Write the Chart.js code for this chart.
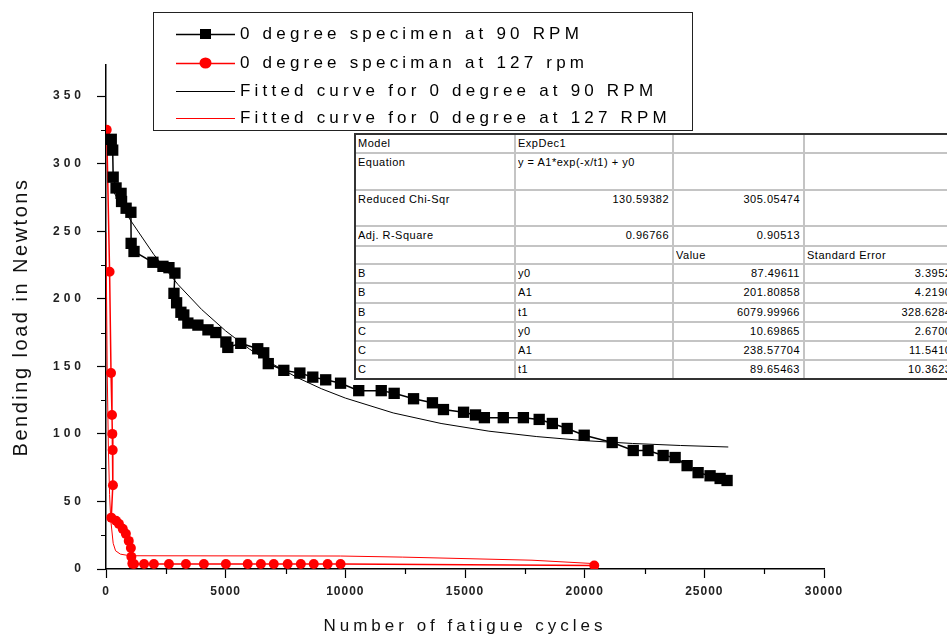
<!DOCTYPE html>
<html>
<head>
<meta charset="utf-8">
<title>Bending load vs number of fatigue cycles</title>
<script src="https://cdn.jsdelivr.net/npm/chart.js@4.4.1/dist/chart.umd.min.js"></script>
<style>
  html, body { margin:0; padding:0; background:#fff; }
  #wrap { position:relative; width:947px; height:639px; overflow:hidden; font-family:"Liberation Sans", Arial, sans-serif; }
  #chart { position:absolute; left:0; top:0; }
  #legend { position:absolute; left:153px; top:12px; width:540px; height:119px; box-sizing:border-box; border:1.5px solid #222; background:#fff; }
  .lg-row { position:absolute; left:0; height:24px; display:flex; align-items:center; }
  .lg-row svg { margin-left:22px; display:block; }
  .lg-row span { margin-left:5px; font-size:17px; letter-spacing:4.2px; color:#000; white-space:nowrap; }
  #fit-table { position:absolute; left:0; top:0; width:947px; height:639px; pointer-events:none; }
  .tl { position:absolute; background:#c4c4c4; }
  .tb { position:absolute; background:#333; }
  .tc { position:absolute; font-size:11px; letter-spacing:0.5px; color:#000; white-space:nowrap; line-height:13px; overflow:hidden; }
</style>
</head>
<body>
<div id="wrap">
  <canvas id="chart" width="947" height="639"></canvas>
  <div id="fit-table"></div>
  <div id="legend"></div>
</div>
<script>
// ---------------- data ----------------
const xTickValues = [0, 5000, 10000, 15000, 20000, 25000, 30000];
const yTickValues = [0, 50, 100, 150, 200, 250, 300, 350];
const xMinorTicks = [2500, 7500, 12500, 17500, 22500, 27500];
const yMinorTicks = [25, 75, 125, 175, 225, 275, 325];

const seriesNames = [
  "0 degree specimen at 90 RPM",
  "0 degree speciman at 127 rpm",
  "Fitted curve for 0 degree at 90 RPM",
  "Fitted curve for 0 degree at 127 RPM"
];

const black90Cycles = [220,280,300,420,630,650,840,1040,1050,1170,1960,2380,2630,2880,2840,2950,3130,3250,3420,3840,4260,4590,5010,5090,5630,6340,6590,6780,7430,8100,8640,9180,9800,10560,11500,12040,12850,13640,14100,14940,15440,15810,16600,17440,18100,18650,19270,19980,21150,22030,22650,23280,23780,24280,24740,25240,25660,25950];
const black90Load   = [318,310,290,282,278,272,267,264,241,235,227,224,223,219,204,197,190,188,182,180.5,177,175,168,164,167,163,160,152,147,145,142,140,137.5,132,132,130,126,123,118,116,114,112,112,112,110.7,107.7,104,99,93.6,87.7,87.7,84,82.5,76.5,71.3,69,67,65.5];

const red127Cycles = [30,150,210,250,265,280,290,220,420,540,700,830,950,1040,1060,1100,1170,1590,2000,2630,3340,4090,5010,5920,6470,7010,7590,8140,8680,9260,9800,20400];
const red127Load   = [325,220,145,114,100,88,62,38,35.7,33.4,29.7,26,20.8,15.6,9,4,3.7,3.7,3.7,3.7,3.7,3.7,3.7,3.7,3.7,3.7,3.7,3.7,3.7,3.7,3.7,2.5];

const fit90Cycles = [280,1000,2000,3000,4000,5000,6000,7000,8000,9000,10000,12000,14000,16000,18000,20000,22000,24000,26000];
const fit90Load   = [280.2,258.7,232.7,210.7,192.0,176.2,162.7,151.3,141.6,133.4,126.5,115.5,107.7,102.0,98.0,95.0,92.9,91.4,90.3];

const fit127Cycles = [0,50,100,150,200,300,400,600,1000,9800,12400,17800,20400];
const fit127Load   = [249,147,89,55,36,19,13.5,11,9.8,9.6,8.8,6.5,4];

// fit-parameter table (text shown in the picture)
const tableRows = [
  ["Model", "ExpDec1", "", ""],
  ["Equation", "y = A1*exp(-x/t1) + y0", "", ""],
  ["Reduced Chi-Sqr", "130.59382", "305.05474", ""],
  ["Adj. R-Square", "0.96766", "0.90513", ""],
  ["", "", "Value", "Standard Error"],
  ["B", "y0", "87.49611", "3.39524"],
  ["B", "A1", "201.80858", "4.21909"],
  ["B", "t1", "6079.99966", "328.62847"],
  ["C", "y0", "10.69865", "2.67004"],
  ["C", "A1", "238.57704", "11.54106"],
  ["C", "t1", "89.65463", "10.36233"]
];

// ---------------- helpers ----------------
const pts = (xs, ys) => xs.map((x, i) => ({ x: x, y: ys[i] }));
const FONT = '"Liberation Sans", Arial, sans-serif';

// letter spacing for axis texts (the reference renders spaced glyphs)
function wrapSpacing(scale, tickLs, titleLs) {
  if (!scale || scale.__spaced) return;
  scale.__spaced = true;
  const dl = scale.drawLabels, dt = scale.drawTitle;
  scale.drawLabels = function (a) { const c = this.ctx; c.save(); c.letterSpacing = tickLs + 'px'; dl.call(this, a); c.restore(); };
  scale.drawTitle = function (a) { const c = this.ctx; c.save(); c.letterSpacing = titleLs + 'px'; dt.call(this, a); c.restore(); };
}

const axisExtras = {
  id: 'axisExtras',
  afterUpdate(chart) {
    wrapSpacing(chart.scales.x, 1, 4);
    wrapSpacing(chart.scales.y, 4, 2.5);
  },
  afterDraw(chart) {
    const { ctx, scales: { x, y }, chartArea } = chart;
    ctx.save();
    ctx.strokeStyle = '#000';
    ctx.lineWidth = 1.2;
    ctx.beginPath();
    yMinorTicks.forEach(v => {
      const py = Math.round(y.getPixelForValue(v)) + 0.5;
      ctx.moveTo(chartArea.left - 5, py); ctx.lineTo(chartArea.left, py);
    });
    xMinorTicks.forEach(v => {
      const px = Math.round(x.getPixelForValue(v)) + 0.5;
      ctx.moveTo(px, chartArea.bottom); ctx.lineTo(px, chartArea.bottom + 5);
    });
    ctx.stroke();
    ctx.restore();
  }
};

// ---------------- chart ----------------
const chart = new Chart(document.getElementById('chart'), {
  type: 'scatter',
  data: {
    datasets: [
      { label: seriesNames[2], data: pts(fit90Cycles, fit90Load), showLine: true, borderColor: '#000', borderWidth: 1, pointRadius: 0, tension: 0, order: 3 },
      { label: seriesNames[3], data: pts(fit127Cycles, fit127Load), showLine: true, borderColor: '#ff0000', borderWidth: 1, pointRadius: 0, tension: 0, order: 4 },
      { label: seriesNames[0], data: pts(black90Cycles, black90Load), showLine: true, borderColor: '#000', borderWidth: 1.5,
        pointStyle: 'rect', pointRadius: 8, pointBackgroundColor: '#000', pointBorderColor: '#000', pointBorderWidth: 0, order: 1 },
      { label: seriesNames[1], data: pts(red127Cycles, red127Load), showLine: true, borderColor: '#ff0000', borderWidth: 1.5,
        pointStyle: 'circle', pointRadius: 5, pointBackgroundColor: '#ff0000', pointBorderColor: '#ff0000', pointBorderWidth: 0, order: 2 }
    ]
  },
  options: {
    responsive: false,
    animation: false,
    layout: { padding: { left: 0, right: 123, top: 65, bottom: 0 } },
    plugins: { legend: { display: false }, tooltip: { enabled: false } },
    scales: {
      x: {
        type: 'linear', min: 0, max: 30000,
        afterBuildTicks: s => { s.ticks = xTickValues.map(v => ({ value: v })); },
        afterFit: s => { s.height = 70; },
        grid: { display: true, drawOnChartArea: false, drawTicks: true, tickLength: 9, color: '#000', tickWidth: 1.2 },
        border: { display: true, color: '#000', width: 1.5 },
        ticks: { color: '#222', font: { family: FONT, size: 12, weight: 'bold' }, padding: 6, maxRotation: 0, autoSkip: false, callback: v => String(v) },
        title: { display: true, text: 'Number of fatigue cycles', color: '#111', font: { family: FONT, size: 17 }, padding: { top: 0, bottom: 2 } }
      },
      y: {
        type: 'linear', min: 0, max: 373,
        afterBuildTicks: s => { s.ticks = yTickValues.map(v => ({ value: v })); },
        afterFit: s => { s.width = 106; },
        grid: { display: true, drawOnChartArea: false, drawTicks: true, tickLength: 9, color: '#000', tickWidth: 1.2 },
        border: { display: true, color: '#000', width: 1.5 },
        ticks: { color: '#222', font: { family: FONT, size: 12, weight: 'bold' }, padding: 12, autoSkip: false, callback: v => String(v) },
        title: { display: true, text: 'Bending load in Newtons', color: '#111', font: { family: FONT, size: 20 }, padding: { top: 9, bottom: 0 } }
      }
    }
  },
  plugins: [axisExtras]
});

// ---------------- legend (built from the chart's datasets) ----------------
(function buildLegend() {
  const box = document.getElementById('legend');
  const centers = [21, 50, 78, 105];
  const byLabel = {};
  chart.data.datasets.forEach(d => { byLabel[d.label] = d; });
  seriesNames.forEach((name, i) => {
    const ds = byLabel[name];
    const row = document.createElement('div');
    row.className = 'lg-row';
    row.style.top = (centers[i] - 12) + 'px';
    let marker = '';
    if (ds.pointRadius > 0 && ds.pointStyle === 'rect') marker = `<rect x="24" y="7" width="11" height="10" fill="${ds.pointBackgroundColor}"/>`;
    if (ds.pointRadius > 0 && ds.pointStyle === 'circle') marker = `<ellipse cx="29.5" cy="12" rx="6" ry="5.5" fill="${ds.pointBackgroundColor}"/>`;
    row.innerHTML = `<svg width="59" height="24"><line x1="0" y1="12.5" x2="59" y2="12.5" stroke="${ds.borderColor}" stroke-width="${ds.borderWidth}"/>${marker}</svg><span>${name}</span>`;
    box.appendChild(row);
  });
})();

// ---------------- fit table ----------------
(function buildTable() {
  const host = document.getElementById('fit-table');
  const colEdges = [355, 515, 673, 804, 962];
  const rowEdges = [134, 153, 190, 226, 246, 264, 283, 303, 322, 341, 360, 379];
  const add = (cls, css, text) => { const d = document.createElement('div'); d.className = cls; Object.assign(d.style, css); if (text !== undefined) d.textContent = text; host.appendChild(d); };
  add('tl', { left: colEdges[0] + 'px', top: rowEdges[0] + 'px', width: (colEdges[4] - colEdges[0]) + 'px', height: (rowEdges[11] - rowEdges[0]) + 'px', background: '#fff' });
  rowEdges.slice(1, -1).forEach(y => add('tl', { left: colEdges[0] + 'px', top: (y - 1) + 'px', width: (colEdges[4] - colEdges[0]) + 'px', height: '2px' }));
  colEdges.slice(1).forEach(x => add('tl', { left: (x - 1) + 'px', top: rowEdges[0] + 'px', width: '2px', height: (rowEdges[11] - rowEdges[0]) + 'px' }));
  add('tb', { left: (colEdges[0] - 1) + 'px', top: (rowEdges[0] - 1) + 'px', width: (colEdges[4] - colEdges[0] + 1) + 'px', height: '2px' });
  add('tb', { left: (colEdges[0] - 1) + 'px', top: (rowEdges[11] - 1) + 'px', width: (colEdges[4] - colEdges[0] + 1) + 'px', height: '2px' });
  add('tb', { left: (colEdges[0] - 1) + 'px', top: (rowEdges[0] - 1) + 'px', width: '2px', height: (rowEdges[11] - rowEdges[0] + 1) + 'px' });
  const isNum = s => /^[0-9.\-]+$/.test(s);
  tableRows.forEach((row, r) => {
    row.forEach((txt, c) => {
      if (!txt) return;
      const num = isNum(txt) && c > 0;
      const css = { top: (rowEdges[r] + 3) + 'px', height: '14px' };
      if (num) { css.left = (colEdges[c] + 2) + 'px'; css.width = (colEdges[c + 1] - colEdges[c] - 6) + 'px'; css.textAlign = 'right'; }
      else { css.left = (colEdges[c] + 3) + 'px'; css.width = (colEdges[c + 1] - colEdges[c] - 5) + 'px'; }
      add('tc', css, txt);
    });
  });
})();
</script>
</body>
</html>
